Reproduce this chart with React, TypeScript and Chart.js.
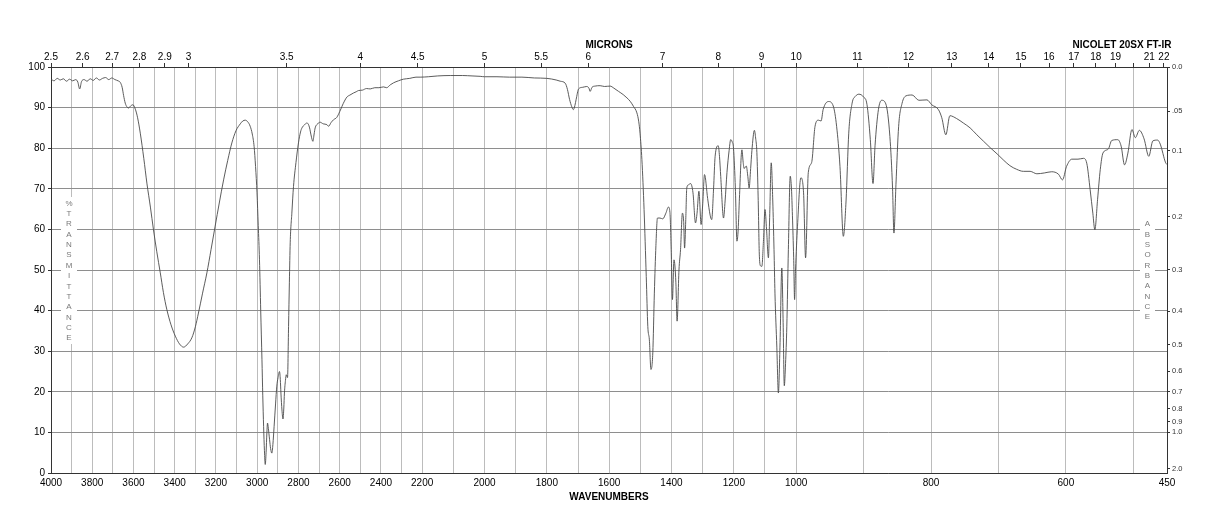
import React, { useEffect, useRef } from 'react';
import { Chart, LinearScale, registerables } from 'chart.js';

// ---------------- spectrum data (wavenumber cm-1 -> %T) ----------------
const WN_BASELINE = [4000, 3985, 3970, 3955, 3940, 3925, 3910, 3895, 3880, 3870, 3861, 3852, 3840, 3825, 3810, 3795, 3780, 3765, 3750, 3735, 3720, 3705, 3690, 3675, 3664, 3655, 3648, 3640, 3632, 3624, 3614, 3603, 3591];
const T_BASELINE = [97.0, 96.6, 97.2, 96.8, 97.1, 96.5, 97.0, 96.6, 96.9, 96.3, 94.6, 96.4, 96.9, 96.5, 97.1, 96.7, 97.3, 96.8, 97.2, 97.4, 96.9, 97.3, 96.9, 96.6, 96.2, 95.0, 93.0, 91.1, 90.2, 89.9, 90.4, 90.7, 89.6];

const WN_OH = [3580, 3567, 3550, 3535, 3518, 3503, 3487, 3470, 3455, 3438, 3418, 3397, 3377, 3357, 3337, 3317, 3300, 3285, 3265, 3244, 3224, 3204, 3184, 3163, 3143, 3123, 3103, 3082, 3070, 3058, 3046, 3034, 3024, 3015, 3008];
const T_OH = [87.5, 83.7, 77.5, 71.4, 65.5, 59.9, 54.5, 49.3, 44.5, 40.2, 36.5, 33.7, 31.8, 31.0, 31.8, 33.3, 36.0, 39.4, 44.3, 49.3, 55.0, 60.8, 66.5, 72.2, 77.0, 81.3, 84.3, 86.0, 86.7, 86.9, 86.5, 85.4, 83.5, 80.4, 75.5];

const WN_CH = [3001, 2995, 2989, 2983, 2977, 2973, 2969, 2965, 2961, 2957, 2953, 2950, 2946, 2940, 2935, 2929, 2924, 2918, 2911, 2905, 2899, 2892, 2888, 2885, 2880, 2875, 2871, 2868, 2863, 2859, 2853, 2848, 2844, 2840, 2832, 2824, 2812, 2800, 2790, 2783, 2770, 2759, 2752, 2746, 2738, 2730, 2724, 2719, 2707, 2695, 2680, 2662, 2654, 2642, 2630, 2614];
const T_CH = [69.0, 61.0, 52.5, 40.0, 27.9, 19.0, 11.5, 5.5, 2.1, 5.0, 10.0, 12.3, 11.0, 8.2, 6.0, 4.9, 7.0, 11.5, 17.0, 21.4, 23.5, 25.0, 23.0, 19.7, 15.5, 13.3, 16.0, 19.7, 22.8, 24.2, 23.5, 36.1, 47.0, 56.7, 64.0, 70.6, 76.5, 81.3, 84.0, 85.0, 85.8, 86.2, 85.9, 85.0, 83.0, 81.7, 83.5, 85.0, 86.0, 86.4, 86.0, 85.8, 85.4, 86.3, 87.0, 87.6];

const WN_PLATEAU = [2600, 2589, 2577, 2565, 2550, 2533, 2520, 2509, 2490, 2470, 2452, 2430, 2410, 2388, 2372, 2355, 2339, 2315, 2291, 2260, 2230, 2210, 2180, 2150, 2110, 2070, 2040, 2014, 2000, 1960, 1920, 1880, 1840, 1800, 1770, 1757];
const T_PLATEAU = [89.0, 90.3, 91.6, 92.6, 93.1, 93.6, 93.9, 94.2, 94.3, 94.7, 94.6, 94.9, 94.9, 95.1, 94.9, 95.6, 96.1, 96.6, 97.0, 97.2, 97.5, 97.5, 97.6, 97.8, 97.9, 97.9, 97.8, 97.7, 97.6, 97.6, 97.5, 97.5, 97.3, 97.2, 96.8, 96.5];

const WN_CARBONYL = [1741, 1734, 1727, 1720, 1715, 1710, 1706, 1698, 1685, 1672, 1665, 1661, 1655, 1645, 1629, 1615, 1597, 1585, 1570, 1555, 1543, 1532, 1522, 1511, 1505, 1501];
const T_CARBONYL = [96.0, 94.5, 92.0, 90.2, 89.5, 90.5, 92.0, 94.6, 95.0, 95.2, 94.8, 94.0, 95.0, 95.3, 95.4, 95.2, 95.3, 94.8, 94.0, 93.2, 92.4, 91.5, 90.3, 88.7, 86.5, 83.7];

const WN_FINGER = [1495, 1488, 1481, 1476, 1471, 1466, 1460, 1455, 1450, 1445, 1437, 1428, 1418, 1410, 1405, 1401, 1397, 1392, 1386, 1382, 1376, 1371, 1365, 1361, 1358, 1354, 1351, 1345, 1339, 1331, 1323, 1318, 1312, 1305, 1300, 1294, 1284, 1276, 1271, 1265, 1260, 1250, 1246, 1242, 1233, 1228, 1222, 1215, 1210, 1205, 1201, 1195, 1190, 1186, 1182, 1174, 1170, 1167, 1160, 1155, 1151, 1146, 1142, 1134, 1130, 1126, 1122, 1118, 1114, 1110, 1105, 1100, 1095, 1089, 1085, 1080, 1075, 1071, 1068, 1062, 1057, 1052, 1046, 1042, 1038, 1034, 1030, 1025, 1019, 1015, 1012, 1008, 1005, 1002];
const T_FINGER = [77.2, 64.9, 48.4, 36.1, 32.8, 25.5, 29.6, 44.3, 56.0, 62.8, 62.8, 62.6, 64.0, 65.5, 64.2, 55.0, 42.7, 52.5, 47.0, 37.4, 50.0, 55.0, 64.0, 62.0, 55.4, 63.0, 70.2, 71.0, 71.3, 69.0, 61.6, 64.0, 69.4, 61.2, 66.0, 73.5, 67.6, 63.5, 62.4, 70.0, 78.0, 80.6, 78.0, 73.0, 62.8, 67.0, 74.0, 79.5, 82.1, 81.5, 80.0, 70.0, 57.1, 60.0, 67.7, 79.6, 76.5, 75.0, 75.6, 73.0, 70.2, 75.0, 79.4, 84.4, 82.5, 78.9, 68.0, 53.4, 51.0, 50.9, 57.0, 64.9, 60.0, 53.0, 63.0, 76.4, 67.0, 55.0, 44.3, 31.0, 19.7, 31.0, 50.5, 38.0, 21.5, 27.0, 36.0, 55.0, 73.1, 70.0, 63.5, 53.0, 42.7, 50.0];

const WN_LOW = [998, 993, 989, 986, 982, 977, 972, 967, 963, 960, 952, 945, 940, 935, 930, 926, 922, 917, 912, 907, 900, 895, 890, 886, 883, 878, 873, 867, 861, 857, 855, 852, 848, 843, 837, 828, 818, 806, 799, 789, 784, 778, 772, 762, 752, 742, 732, 722, 712, 702, 692, 683, 673, 663, 653, 643, 632, 621, 611, 605];
const T_LOW = [60.8, 72.7, 69.0, 53.0, 74.0, 76.5, 85.4, 86.9, 86.7, 89.5, 91.5, 90.4, 85.4, 75.5, 58.3, 67.0, 83.7, 91.1, 92.8, 93.3, 92.6, 90.8, 82.1, 71.3, 80.6, 89.5, 91.8, 90.9, 82.9, 70.0, 59.1, 71.0, 85.4, 91.0, 92.9, 93.1, 91.8, 91.9, 90.7, 89.5, 87.5, 83.3, 88.0, 87.3, 86.2, 85.0, 83.3, 81.7, 80.1, 78.6, 77.0, 75.7, 74.8, 74.3, 74.3, 73.7, 73.9, 74.2, 73.6, 72.2];

const WN_FAR = [599, 591, 582, 574, 569, 564, 560, 557, 553, 549, 545, 537, 532, 523, 518, 513, 508, 502, 497, 491, 484, 477, 471, 464, 460, 452, 450];
const T_FAR = [75.5, 77.3, 77.3, 77.5, 76.3, 69.8, 64.0, 59.9, 67.3, 74.7, 78.8, 79.8, 81.9, 82.1, 80.5, 75.9, 78.8, 84.6, 82.6, 84.4, 82.3, 78.0, 81.8, 82.0, 81.0, 76.4, 76.0];

// ---------------- axis ticks ----------------
const WAVENUMBER_TICKS = [4000, 3900, 3800, 3700, 3600, 3500, 3400, 3300, 3200, 3100, 3000, 2900, 2800, 2700, 2600, 2500, 2400, 2300, 2200, 2100, 2000, 1900, 1800, 1700, 1600, 1500, 1400, 1300, 1200, 1100, 1000, 900, 800, 700, 600, 500, 450];
const WAVENUMBER_LABELS = [4000, 3800, 3600, 3400, 3200, 3000, 2800, 2600, 2400, 2200, 2000, 1800, 1600, 1400, 1200, 1000, 800, 600, 450];
const MICRON_TICKS = [2.5, 2.6, 2.7, 2.8, 2.9, 3, 3.5, 4, 4.5, 5, 5.5, 6, 7, 8, 9, 10, 11, 12, 13, 14, 15, 16, 17, 18, 19, 20, 21, 22];
const MICRON_UNLABELED = [20];
const TRANSMITTANCE_TICKS = [0, 10, 20, 30, 40, 50, 60, 70, 80, 90, 100];
const ABSORBANCE_TICKS = [0, 0.05, 0.1, 0.2, 0.3, 0.4, 0.5, 0.6, 0.7, 0.8, 0.9, 1.0, 2.0];
const ABSORBANCE_LABELS = ['0.0', '.05', '0.1', '0.2', '0.3', '0.4', '0.5', '0.6', '0.7', '0.8', '0.9', '1.0', '2.0'];

// chart-paper scale breaks (cm-1) and their fraction of the axis length
const PAPER_BREAKS = [4000, 2200, 1000, 450];
const PAPER_FRACTIONS = [0, 0.3326, 0.6677, 1];

const FONT = '"Liberation Sans", Arial, Helvetica, sans-serif';

class WavenumberScale extends LinearScale {
  static id = 'wavenumber';
  static defaults = {};
  toDecimal(v) {
    const n = PAPER_BREAKS.length;
    for (let i = 0; i < n - 1; i++) {
      const a = PAPER_BREAKS[i];
      const b = PAPER_BREAKS[i + 1];
      if (v >= b || i === n - 2) {
        return PAPER_FRACTIONS[i] + ((a - v) / (a - b)) * (PAPER_FRACTIONS[i + 1] - PAPER_FRACTIONS[i]);
      }
    }
    return 0;
  }
  getPixelForValue(value) {
    if (value === null || value === undefined || isNaN(value)) return NaN;
    return this.getPixelForDecimal(this.toDecimal(value));
  }
  getValueForPixel(pixel) {
    const d = this.getDecimalForPixel(pixel);
    const n = PAPER_BREAKS.length;
    for (let i = 0; i < n - 1; i++) {
      const fa = PAPER_FRACTIONS[i];
      const fb = PAPER_FRACTIONS[i + 1];
      if (d <= fb || i === n - 2) {
        const a = PAPER_BREAKS[i];
        const b = PAPER_BREAKS[i + 1];
        return a - ((d - fa) / (fb - fa)) * (a - b);
      }
    }
    return PAPER_BREAKS[0];
  }
}

Chart.register(...registerables, WavenumberScale);

const LEFT_VERTICAL = '%TRANSMITTANCE';
const RIGHT_VERTICAL = 'ABSORBANCE';

const paperText = {
  id: 'paperText',
  beforeDatasetsDraw(chart) {
    const ctx = chart.ctx;
    ctx.save();
    ctx.fillStyle = '#ffffff';
    ctx.fillRect(61, 197, 16, 147);
    ctx.fillRect(1140, 218, 15, 105);
    ctx.fillStyle = '#7a7a7a';
    ctx.font = `8px ${FONT}`;
    ctx.textAlign = 'center';
    ctx.textBaseline = 'middle';
    LEFT_VERTICAL.split('').forEach((ch, i) => ctx.fillText(ch, 69, 203.5 + i * 10.35));
    RIGHT_VERTICAL.split('').forEach((ch, i) => ctx.fillText(ch, 1147.5, 224 + i * 10.35));
    ctx.restore();
  },
  afterDraw(chart) {
    const ctx = chart.ctx;
    ctx.save();
    ctx.fillStyle = '#000';
    ctx.font = `bold 10px ${FONT}`;
    ctx.textAlign = 'center';
    ctx.textBaseline = 'middle';
    ctx.fillText('NICOLET 20SX FT-IR', 1122, 45);
    ctx.restore();
  },
};

function buildPoints() {
  const wn = [...WN_BASELINE, ...WN_OH, ...WN_CH, ...WN_PLATEAU, ...WN_CARBONYL, ...WN_FINGER, ...WN_LOW, ...WN_FAR];
  const t = [...T_BASELINE, ...T_OH, ...T_CH, ...T_PLATEAU, ...T_CARBONYL, ...T_FINGER, ...T_LOW, ...T_FAR];
  return wn.map((x, i) => ({ x, y: t[i] }));
}

export default function App() {
  const ref = useRef(null);
  useEffect(() => {
    Chart.defaults.font.family = FONT;
    const chart = new Chart(ref.current, {
      type: 'line',
      data: {
        datasets: [
          {
            data: buildPoints(),
            xAxisID: 'x',
            yAxisID: 'y',
            borderColor: '#4a4a4a',
            borderWidth: 0.9,
            pointRadius: 0,
            fill: false,
            cubicInterpolationMode: 'monotone',
          },
        ],
      },
      options: {
        animation: false,
        responsive: false,
        events: [],
        layout: { padding: 0 },
        plugins: { legend: { display: false }, tooltip: { enabled: false } },
        scales: {
          x: {
            type: 'wavenumber',
            position: 'bottom',
            min: 450,
            max: 4000,
            bounds: 'data',
            afterBuildTicks: (s) => {
              s.ticks = WAVENUMBER_TICKS.map((value) => ({ value }));
            },
            afterFit: (s) => {
              s.height = 55;
            },
            ticks: {
              autoSkip: false,
              maxRotation: 0,
              minRotation: 0,
              padding: 4,
              color: '#000',
              font: { size: 10, family: FONT },
              callback: (v, i) => {
                const w = WAVENUMBER_TICKS[i];
                return WAVENUMBER_LABELS.includes(w) ? String(w) : '';
              },
            },
            grid: { color: '#bcbcbc', lineWidth: 1, drawTicks: false },
            border: { color: '#333', width: 1 },
            title: {
              display: true,
              text: 'WAVENUMBERS',
              color: '#000',
              font: { size: 10, weight: 'bold', family: FONT },
              padding: { top: 0, bottom: 25 },
            },
          },
          xTop: {
            type: 'wavenumber',
            position: 'top',
            min: 450,
            max: 4000,
            bounds: 'data',
            afterBuildTicks: (s) => {
              s.ticks = MICRON_TICKS.map((m) => ({ value: 10000 / m }));
            },
            afterFit: (s) => {
              s.height = 67;
            },
            ticks: {
              autoSkip: false,
              maxRotation: 0,
              minRotation: 0,
              padding: 0,
              color: '#000',
              font: { size: 10, family: FONT },
              callback: (v, i) => {
                const m = MICRON_TICKS[i];
                return MICRON_UNLABELED.includes(m) ? '' : String(m);
              },
            },
            grid: { drawOnChartArea: false, drawTicks: true, tickLength: 4, tickColor: '#333' },
            border: { color: '#333', width: 1 },
            title: {
              display: true,
              text: 'MICRONS',
              color: '#000',
              font: { size: 10, weight: 'bold', family: FONT },
              padding: { top: 39, bottom: 0 },
            },
          },
          y: {
            type: 'linear',
            position: 'left',
            min: 0,
            max: 100,
            afterBuildTicks: (s) => {
              s.ticks = TRANSMITTANCE_TICKS.map((value) => ({ value }));
            },
            afterFit: (s) => {
              s.width = 51;
            },
            ticks: {
              autoSkip: false,
              padding: 3,
              color: '#000',
              font: { size: 10, family: FONT },
              callback: (v) => String(v),
            },
            grid: { color: '#8e8e8e', lineWidth: 1, tickLength: 3, tickColor: '#333' },
            border: { color: '#333', width: 1 },
          },
          yAbs: {
            type: 'linear',
            position: 'right',
            min: 0,
            max: 100,
            afterBuildTicks: (s) => {
              s.ticks = ABSORBANCE_TICKS.map((a) => ({ value: 100 * Math.pow(10, -a) }));
            },
            afterFit: (s) => {
              s.width = 51;
            },
            ticks: {
              autoSkip: false,
              padding: 2,
              color: '#333',
              font: { size: 7.5, family: FONT },
              callback: (v, i) => ABSORBANCE_LABELS[i],
            },
            grid: { drawOnChartArea: false, tickLength: 3, tickColor: '#333' },
            border: { color: '#333', width: 1 },
          },
        },
      },
      plugins: [paperText],
    });
    return () => chart.destroy();
  }, []);
  return (
    <div style={{ position: 'fixed', left: 0, top: 0, width: 1218, height: 528, background: '#fff' }}>
      <canvas ref={ref} width={1218} height={528} style={{ display: 'block' }} />
    </div>
  );
}
